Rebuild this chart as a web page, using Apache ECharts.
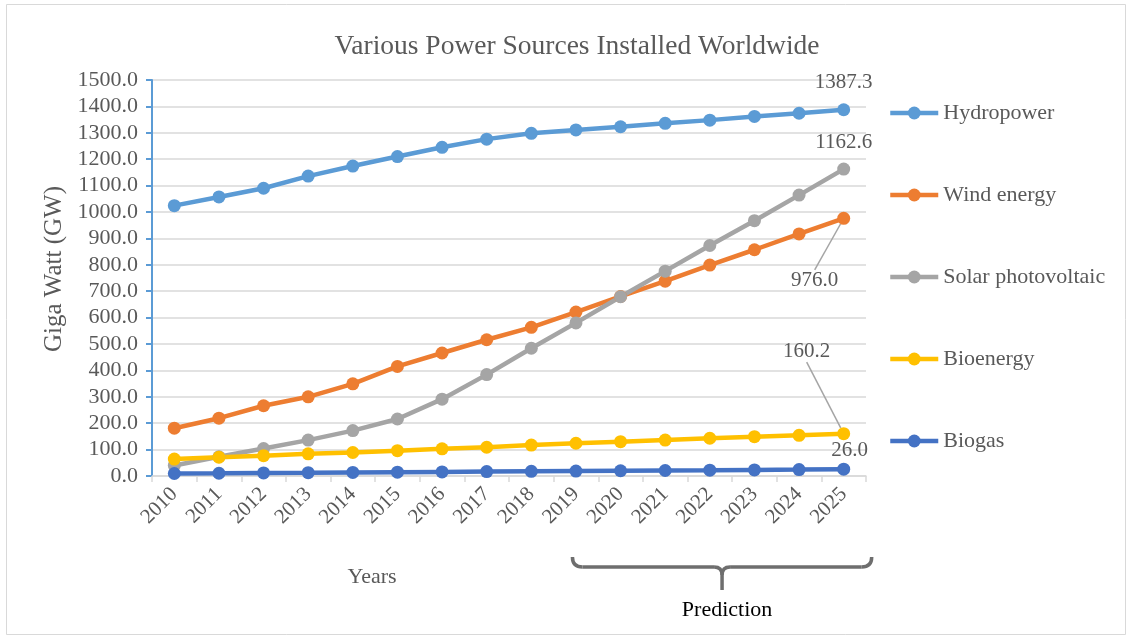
<!DOCTYPE html>
<html>
<head>
<meta charset="utf-8">
<script src="https://cdn.jsdelivr.net/npm/echarts@6/dist/echarts.min.js"></script>
<style>
  html, body { margin: 0; padding: 0; background: #ffffff; }
  #chart { width: 1131px; height: 639px; }
</style>
</head>
<body>
<div id="chart"></div>
<script>
var years = ['2010', '2011', '2012', '2013', '2014', '2015', '2016', '2017',
    '2018', '2019', '2020', '2021', '2022', '2023', '2024', '2025'];

var hydropower = [1024, 1057, 1090, 1136, 1174, 1210, 1245, 1276,
    1298, 1311, 1323, 1336, 1348, 1362, 1374, 1387.3];
var windEnergy = [181, 219, 266, 300, 349, 415, 466, 516,
    563, 621, 680, 738, 799, 857, 917, 976.0];
var solarPV = [40, 73, 104, 136, 172, 216, 291, 384,
    484, 580, 679, 776, 873, 967, 1064, 1162.6];
var bioenergy = [64, 71, 77, 84, 89, 96, 103, 109,
    117, 124, 130, 136, 143, 149, 154, 160.2];
var biogas = [9.5, 10.5, 11.7, 12.5, 13.6, 14.5, 15.6, 16.6,
    17.7, 18.7, 19.8, 20.9, 22.0, 23.2, 24.5, 26.0];

var FONT = "'Liberation Serif', 'DejaVu Serif', serif";
var TEXT_COLOR = '#595959';

var chart = echarts.init(document.getElementById('chart'));

// only the last point of each series carries a value label
function lastLabel(values, withLine) {
    var data = values.slice(0, values.length - 1);
    data.push({
        value: values[values.length - 1],
        label: {
            show: true,
            position: 'top',
            distance: 10,
            color: TEXT_COLOR,
            fontFamily: FONT,
            fontSize: 21,
            formatter: function (p) { return Number(p.value).toFixed(1); }
        },
        labelLine: {
            show: !!withLine,
            lineStyle: { color: '#A5A5A5', width: 1.5 }
        }
    });
    return data;
}

function lineSeries(name, color, data, layout) {
    return {
        name: name,
        type: 'line',
        data: data,
        symbol: 'circle',
        symbolSize: 13,
        lineStyle: { color: color, width: 4.5 },
        itemStyle: { color: color },
        labelLayout: layout,
        animation: false
    };
}

var option = {
    backgroundColor: '#ffffff',
    animation: false,
    title: {
        text: 'Various Power Sources Installed Worldwide',
        left: 572,
        textAlign: 'center',
        top: 28,
        textStyle: {
            color: TEXT_COLOR,
            fontFamily: FONT,
            fontSize: 27.5,
            fontWeight: 'normal'
        }
    },
    grid: {
        left: 152,
        right: 265,
        top: 80,
        bottom: 163
    },
    legend: {
        orient: 'vertical',
        left: 883,
        top: 97,
        itemWidth: 48,
        itemHeight: 16,
        itemGap: 60,
        lineStyle: { width: 4.5 },
        textStyle: {
            color: TEXT_COLOR,
            fontFamily: FONT,
            fontSize: 22
        },
        data: ['Hydropower', 'Wind energy', 'Solar photovoltaic', 'Bioenergy', 'Biogas']
    },
    xAxis: {
        type: 'category',
        data: years,
        boundaryGap: true,
        name: 'Years',
        nameLocation: 'middle',
        nameGap: 90,
        nameTextStyle: {
            color: TEXT_COLOR,
            fontFamily: FONT,
            fontSize: 22,
            padding: [0, 0, 0, -274]
        },
        axisLine: { lineStyle: { color: '#D9D9D9', width: 1.5 } },
        axisTick: { show: true, length: 6, lineStyle: { color: '#D9D9D9', width: 1.5 } },
        axisLabel: {
            rotate: 45,
            color: TEXT_COLOR,
            fontFamily: FONT,
            fontSize: 21,
            margin: 15
        }
    },
    yAxis: {
        type: 'value',
        min: 0,
        max: 1500,
        interval: 100,
        name: 'Giga Watt (GW)',
        nameLocation: 'middle',
        nameGap: 81,
        nameRotate: 90,
        nameTextStyle: {
            color: TEXT_COLOR,
            fontFamily: FONT,
            fontSize: 25,
            padding: [0, 0, 0, 18]
        },
        axisLine: { show: true, lineStyle: { color: '#5B9BD5', width: 2 } },
        axisTick: { show: true, length: 6, lineStyle: { color: '#5B9BD5', width: 2 } },
        axisLabel: {
            color: TEXT_COLOR,
            fontFamily: FONT,
            fontSize: 22,
            margin: 14,
            formatter: function (v) { return v.toFixed(1); }
        },
        splitLine: { lineStyle: { color: '#D9D9D9', width: 1.5 } }
    },
    series: [
        lineSeries('Hydropower', '#5B9BD5', lastLabel(hydropower)),
        lineSeries('Wind energy', '#ED7D31', lastLabel(windEnergy, true), { dx: -29, dy: 89 }),
        lineSeries('Solar photovoltaic', '#A5A5A5', lastLabel(solarPV)),
        lineSeries('Bioenergy', '#FFC000', lastLabel(bioenergy, true), { dx: -37, dy: -55 }),
        lineSeries('Biogas', '#4472C4', lastLabel(biogas), { dx: 6, dy: 8 })
    ]
};

chart.setOption(option);

// curly brace under the predicted years, placed from the category axis
var bx0 = chart.convertToPixel({ xAxisIndex: 0 }, '2019') - 3.5;
var bx1 = chart.convertToPixel({ xAxisIndex: 0 }, '2025') + 28;
var bmid = (bx0 + bx1) / 2;
var by = 567;
var braceStyle = { fill: 'none', stroke: '#6E6E6E', lineWidth: 3.5 };

function braceCurve(x1, y1, x2, y2, cx, cy) {
    return {
        type: 'bezierCurve',
        shape: { x1: x1, y1: y1, x2: x2, y2: y2, cpx1: cx, cpy1: cy },
        style: braceStyle,
        silent: true
    };
}

function braceLine(x1, y1, x2, y2) {
    return {
        type: 'line',
        shape: { x1: x1, y1: y1, x2: x2, y2: y2 },
        style: braceStyle,
        silent: true
    };
}

chart.setOption({
    graphic: [
        {
            type: 'rect',
            shape: { x: 6.5, y: 4.5, width: 1119, height: 630 },
            style: { fill: 'none', stroke: '#D9D9D9', lineWidth: 1 },
            silent: true
        },
        braceCurve(bx0, by - 10, bx0 + 10, by, bx0, by),
        braceLine(bx0 + 10, by, bmid - 8, by),
        braceCurve(bmid - 8, by, bmid, by + 8, bmid, by),
        braceLine(bmid, by + 8, bmid, by + 23),
        braceCurve(bmid, by + 8, bmid + 8, by, bmid, by),
        braceLine(bmid + 8, by, bx1 - 10, by),
        braceCurve(bx1 - 10, by, bx1, by - 10, bx1, by),
        {
            type: 'text',
            x: bmid + 5,
            y: 610,
            style: {
                text: 'Prediction',
                fill: '#000000',
                font: '22px ' + FONT,
                align: 'center',
                verticalAlign: 'middle'
            },
            silent: true
        }
    ]
});
</script>
</body>
</html>
